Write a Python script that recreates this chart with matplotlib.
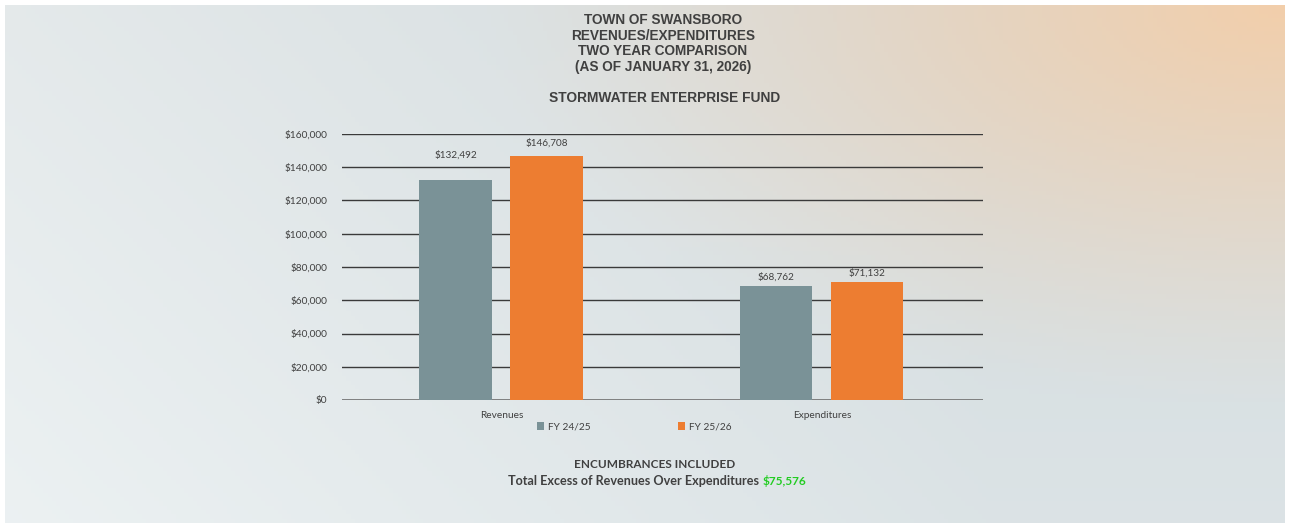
import numpy as np
import matplotlib.pyplot as plt

# chart data
categories = ['Revenues', 'Expenditures']
series_names = ['FY 24/25', 'FY 25/26']
fy2425 = [132492, 68762]
fy2526 = [146708, 71132]
yticks = [0, 20000, 40000, 60000, 80000, 100000, 120000, 140000, 160000]
title_lines = ['TOWN OF SWANSBORO', 'REVENUES/EXPENDITURES',
               'TWO YEAR COMPARISON', '(AS OF JANUARY 31, 2026)']
fund_name = 'STORMWATER ENTERPRISE FUND'
excess_value = '$75,576'

W, H = 1289, 526
fig = plt.figure(figsize=(W / 100, H / 100), dpi=100)
fig.patch.set_facecolor('white')

# soft gradient background (grey-blue left, peach top right)
bg = fig.add_axes([5 / W, 3 / H, 1280 / W, 518 / H], zorder=-10)
gx, gy = np.meshgrid(np.linspace(0, 1, 300), np.linspace(0, 1, 120))
left = np.array([0.895, 0.915, 0.92])
mid = np.array([0.83, 0.86, 0.87])
peach = np.array([0.95, 0.81, 0.67])
t = np.clip(gx * 1.3, 0, 1)[..., None]
base = left * (1 - t) + mid * t
# peach glow from the top right
d = np.sqrt(((1 - gx) * 1.5) ** 2 + ((1 - gy) * 1.2) ** 2)
w = np.clip(1 - d / 0.95, 0, 1)[..., None] ** 1.2
img = base * (1 - w) + peach * w
# a bit lighter towards the bottom
img = img + (1 - gy[..., None]) * 0.03 * (1 - w)
bg.imshow(np.clip(img, 0, 1), aspect='auto', origin='lower', extent=[0, 1, 0, 1])
bg.axis('off')

# titles
tc = '#404040'
for i, line in enumerate(title_lines):
    fig.text(663 / W, 1 - (20 + i * 15.5) / H, line, ha='center', va='center',
             fontsize=9.8, fontweight='bold', family='Liberation Sans', color=tc)
fig.text(665 / W, 1 - 98 / H, fund_name, ha='center', va='center',
         fontsize=9.9, fontweight='bold', family='Liberation Sans', color=tc)

# main chart
ax = fig.add_axes([342 / W, 1 - 400 / H, (983 - 342) / W, (400 - 134) / H])
ax.set_facecolor('none')
x = np.arange(len(categories)) - 0.004
bw = 0.226
off = 0.142
b1 = ax.bar(x - off, fy2425, bw, color='#7a9297', label=series_names[0], zorder=3)
b2 = ax.bar(x + off, fy2526, bw, color='#ed7d31', label=series_names[1], zorder=3)

# value labels; the revenue labels are pushed up a bit like in Excel
lift = {(0, 0): 16, (1, 0): 4}
for si, bars in enumerate((b1, b2)):
    for ci, bar in enumerate(bars):
        ax.annotate(f'${bar.get_height():,.0f}',
                    (bar.get_x() + bar.get_width() / 2, bar.get_height()),
                    xytext=(0, 9 + lift.get((si, ci), 0)),
                    textcoords='offset pixels', ha='center', va='center',
                    fontsize=7.2, family='Lato', color='#404040')

ax.set_xlim(-0.5, 1.5)
ax.set_ylim(0, 160000)
ax.set_yticks(yticks)
ax.set_yticklabels([f'${v:,.0f}' for v in yticks], fontsize=7.3, family='Lato', color='#404040')
ax.set_xticks(np.arange(len(categories)))
ax.set_xticklabels(categories, fontsize=7.3, family='Lato', color='#404040')
ax.tick_params(length=0)
ax.tick_params(axis='y', pad=10.5)
ax.tick_params(axis='x', pad=8)
ax.grid(axis='y', color='#3a3a3a', lw=1.0, zorder=0)
ax.axhline(0, color='#8a8a8a', lw=2, zorder=1)
for s in ax.spines.values():
    s.set_visible(False)

leg = fig.legend(handles=[b1, b2], loc='center', bbox_to_anchor=(634 / W, 1 - 427 / H),
                 ncol=2, frameon=False, handlelength=0.7, handleheight=0.7,
                 handletextpad=0.4, columnspacing=8.6, prop={'family': 'Lato', 'size': 7.3})
for txt in leg.get_texts():
    txt.set_color('#404040')

# footer notes
fig.text(655 / W, 1 - 465 / H, 'ENCUMBRANCES INCLUDED', ha='center', va='center',
         fontsize=8.5, fontweight='bold', family='Lato', color=tc)
fig.text(759 / W, 1 - 481 / H, 'Total Excess of Revenues Over Expenditures', ha='right',
         va='center', fontsize=9.1, fontweight='bold', family='Lato', color=tc)
fig.text(763 / W, 1 - 481 / H, excess_value, ha='left', va='center',
         fontsize=8.5, fontweight='bold', family='Lato', color='#22cc22')

fig.savefig('out.png', dpi=100)
